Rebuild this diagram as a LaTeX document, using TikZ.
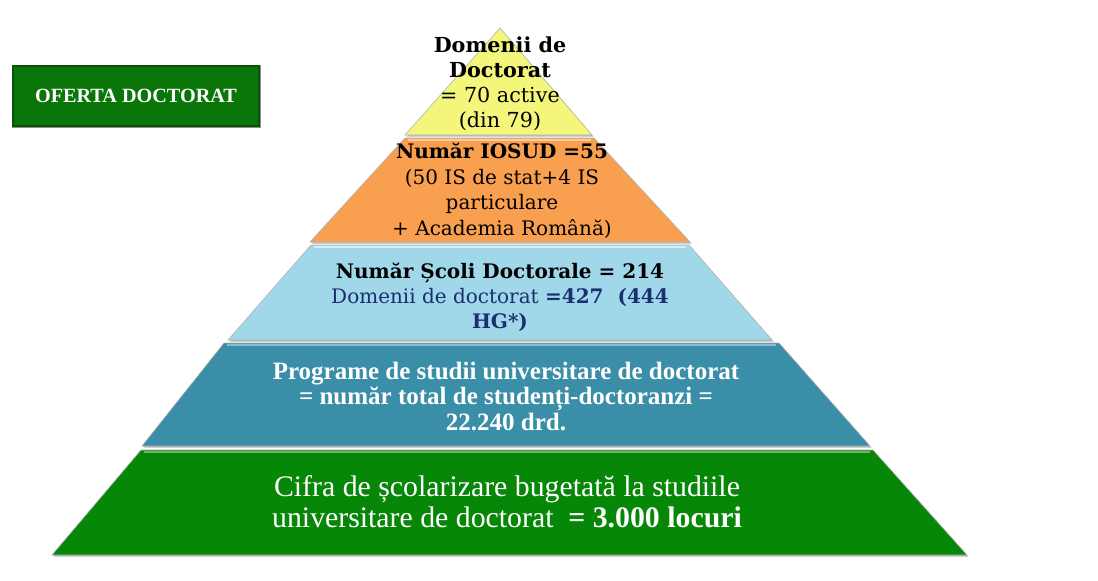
\documentclass[tikz,border=0pt]{standalone}
\usepackage{fontspec}
\setmainfont{Liberation Serif}
\newfontfamily\cambriafont{DejaVu Serif}
\usetikzlibrary{positioning}
\definecolor{pyryellow}{HTML}{F4F67C}
\definecolor{pyrorange}{HTML}{F89F50}
\definecolor{pyrblue}{HTML}{A0D8EA}
\definecolor{pyrteal}{HTML}{3A8EA7}
\definecolor{pyrgreen}{HTML}{078707}
\definecolor{btngreen}{HTML}{0A760A}
\definecolor{txtnavy}{HTML}{1B2F6E}

\begin{document}
\begin{tikzpicture}[x = 1pt, y = -1pt,
        layer/.style = {draw = black!30, line width = 0.6pt},
        layershadow/.style = {fill = black!28, xshift = 1.6pt, yshift = -1.6pt},
        txt/.style = {align = center, inner sep = 0pt}]
    \useasboundingbox (0,0) rectangle (1098,581);

    % shadows
    \fill [layershadow] (500,28) -- (592,135) -- (405,135) -- cycle;
    \fill [layershadow] (405,138) -- (594,138) -- (690,242) -- (310,242) -- cycle;
    \fill [layershadow] (311,245) -- (689,245) -- (772,340) -- (228,340) -- cycle;
    \fill [layershadow] (224,343) -- (779,343) -- (870,446) -- (142,446) -- cycle;
    \fill [layershadow] (141,450) -- (873,450) -- (967,555) -- (52,555) -- cycle;

    % layers
    \fill [layer, fill = pyryellow] (500,28) -- (592,135) -- (405,135) -- cycle;
    \fill [layer, fill = pyrorange] (405,138) -- (594,138) -- (690,242) -- (310,242) -- cycle;
    \fill [layer, fill = pyrblue] (311,245) -- (689,245) -- (772,340) -- (228,340) -- cycle;
    \fill [layer, fill = pyrteal] (224,343) -- (779,343) -- (870,446) -- (142,446) -- cycle;
    \fill [layer, fill = pyrgreen] (141,450) -- (873,450) -- (967,555) -- (52,555) -- cycle;

    % top highlights
    \draw [pyrorange!55!white, line width = 1.5pt] (408,140) -- (591,140);
    \draw [pyrblue!40!white, line width = 1.5pt] (314,247) -- (686,247);
    \draw [pyrteal!60!white, line width = 1.5pt] (227,345) -- (776,345);
    \draw [pyrgreen!60!white, line width = 1.5pt] (144,452) -- (870,452);

    \node [txt, font = \cambriafont\fontsize{20.7}{25}\selectfont] (domenii) at (500,84)
        {\textbf{Domenii de}\\\textbf{Doctorat}\\= 70 active\\(din 79)};
    \node [txt, font = \cambriafont\fontsize{20}{25.5}\selectfont] (iosud) at (502,191)
        {\textbf{Număr IOSUD =55}\\(50 IS de stat+4 IS\\particulare\\+ Academia Română)};
    \node [txt, font = \cambriafont\fontsize{20}{25}\selectfont] (scoli) at (500,297)
        {\textbf{Număr Școli Doctorale = 214}\\
         \textcolor{txtnavy}{Domenii de doctorat \textbf{=427 \ (444}}\\
         \textcolor{txtnavy}{\textbf{HG*)}}};
    \node [txt, text = white, font = \bfseries\fontsize{25}{25.5}\selectfont] (programe) at (506,396)
        {Programe de studii universitare de doctorat\\= număr total de studenți-doctoranzi =\\22.240 drd.};
    \node [txt, text = white, font = \fontsize{29.8}{31}\selectfont] (cifra) at (507,502)
        {Cifra de școlarizare bugetată la studiile\\universitare de doctorat \ \textbf{= 3.000 locuri}};

    \node [fill = btngreen, draw = black!45, line width = 0.8pt, minimum width = 248pt,
           minimum height = 62pt, text = white, font = \bfseries\fontsize{20.2}{22}\selectfont]
        (oferta) at (136,96) {OFERTA DOCTORAT};
    \draw [btngreen!70!black, line width = 1.5pt] ([shift = {(1.5pt,1.5pt)}]oferta.south west)
        rectangle ([shift = {(-1.5pt,-1.5pt)}]oferta.north east);
\end{tikzpicture}
\end{document}
